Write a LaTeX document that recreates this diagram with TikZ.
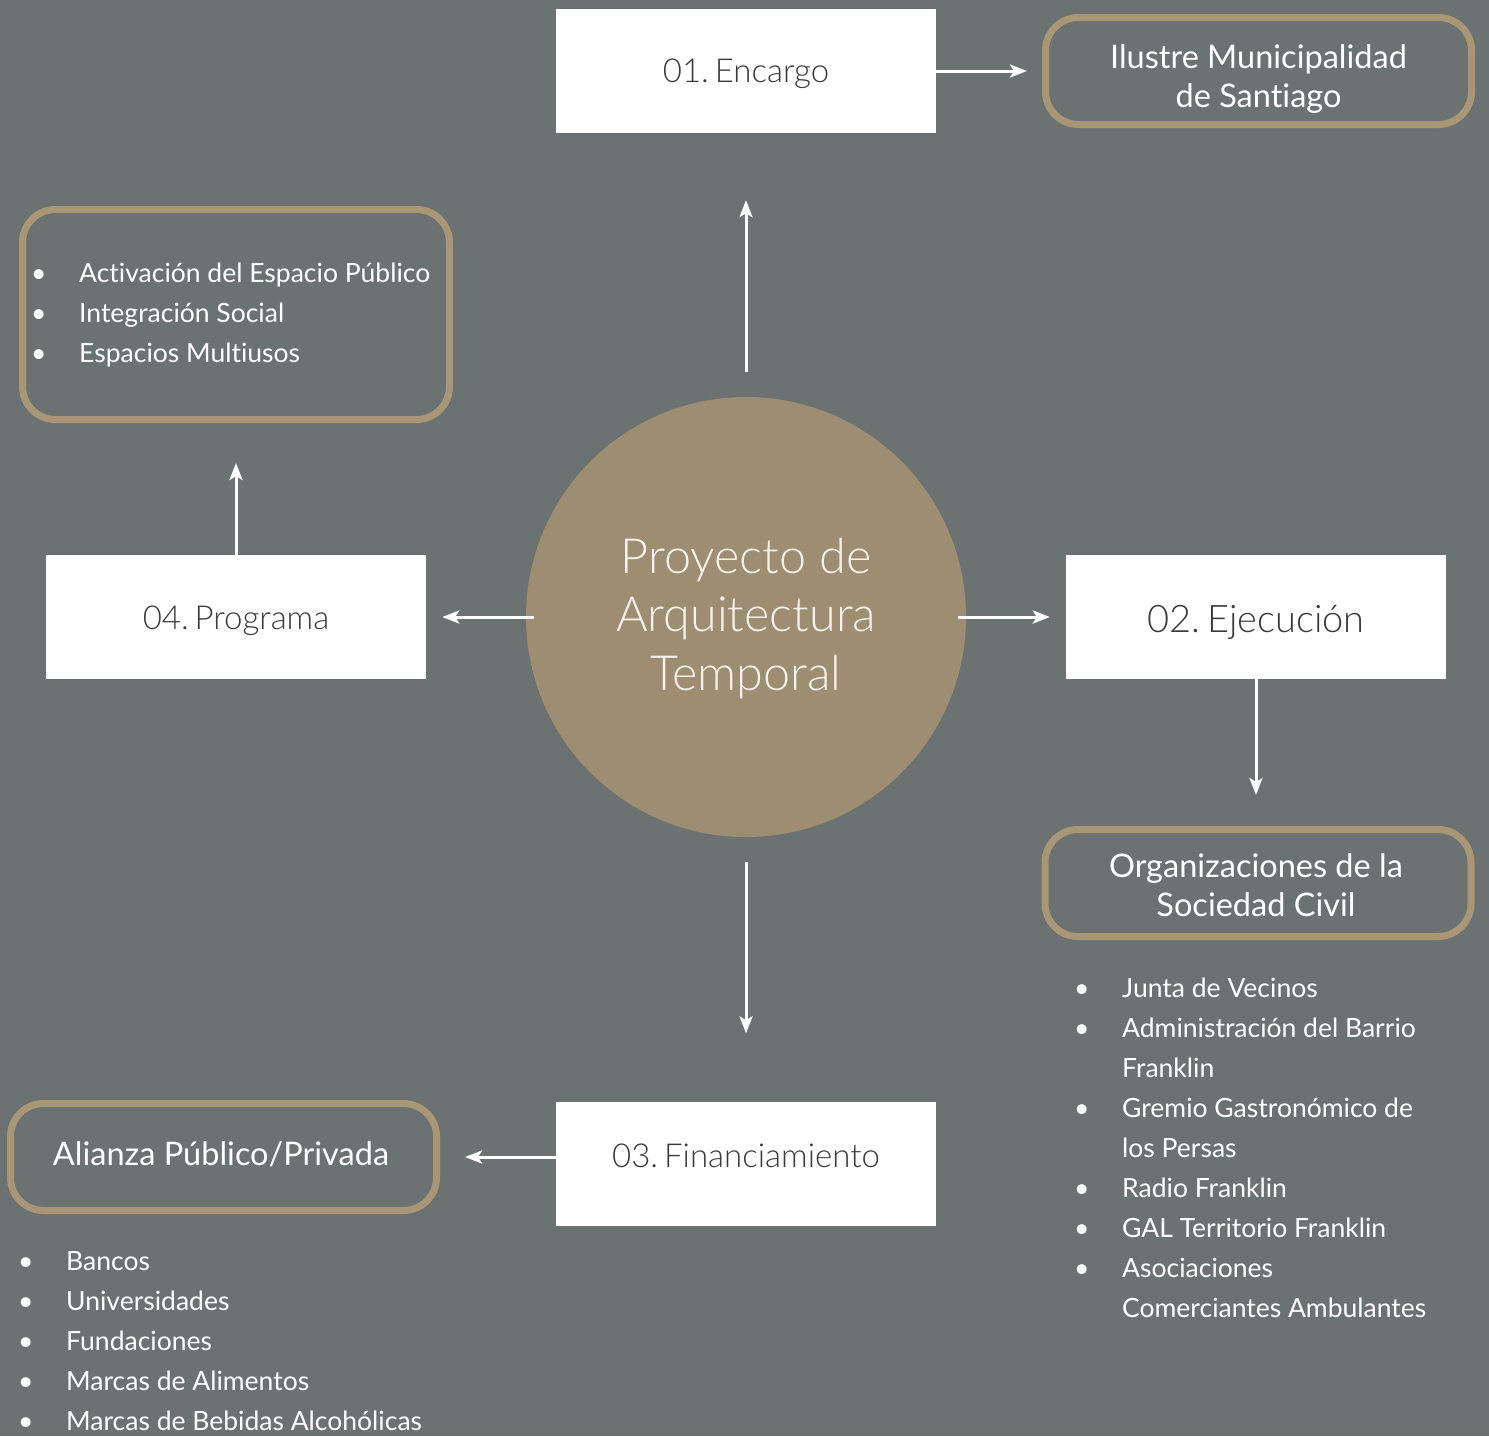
\documentclass[tikz,border=0pt]{standalone}
\usepackage{fontspec}
\setmainfont{Lato}[Ligatures=NoCommon]
\newfontfamily\lightfont{Lato Light}[Ligatures=NoCommon]
\usetikzlibrary{arrows.meta}
\definecolor{bgc}{HTML}{6C7272}
\definecolor{circc}{HTML}{9D8D73}
\definecolor{bordc}{HTML}{A89676}
\definecolor{darkt}{HTML}{3A3A3A}
\definecolor{creamt}{HTML}{F7F3EA}
\newcommand{\bitem}[1]{\textbullet & #1\\}
\begin{document}
\frenchspacing
\begin{tikzpicture}[x=1pt,y=-1pt,
  stagebox/.style={fill=white, draw=none, minimum width=380pt, minimum height=124pt, inner sep=0pt,
     text=darkt, text depth=0pt, font=\lightfont\fontsize{33}{40}\selectfont},
  actorbox/.style={draw=bordc, line width=7pt, rounded corners=33pt, minimum width=426pt, minimum height=107pt,
     inner sep=0pt},
  titletext/.style={text=white, inner sep=0pt, anchor=base, font=\fontsize{32.5}{39}\selectfont},
  listtext/.style={text=white, inner sep=0pt, anchor=base west, font=\fontsize{26.5}{40}\selectfont},
  conn/.style={draw=white, line width=3pt, -{Stealth[length=17pt,width=13pt,inset=4pt]}}
]
\fill[bgc] (0,0) rectangle (1489,1436);
\useasboundingbox (0,0) rectangle (1489,1436);

% centre
\node[circle, fill=circc, minimum size=440pt, inner sep=0pt] (core) at (746,617) {};
\node[text=creamt, inner sep=0pt, anchor=base, font=\lightfont\fontsize{48.5}{58.5}\selectfont] (coretext) at (746,573)
  {\begin{tabular}[t]{@{}c@{}}Proyecto de\\Arquitectura\\Temporal\end{tabular}};

% stages
\node[stagebox, text height=22pt] (enc) at (746,71) {01.\hspace{0.18em}Encargo};
\node[stagebox, text height=30pt, font=\lightfont\fontsize{38}{44}\selectfont] (eje) at (1256,617) {02.\hspace{0.18em}Ejecución};
\node[stagebox, text height=7pt] (fin) at (746,1163.5) {03.\hspace{0.18em}Financiamiento};
\node[stagebox, text height=24pt] (prog) at (236,617) {04.\hspace{0.18em}Programa};

% actor boxes
\node[actorbox] (ilu) at (1258.5,71) {};
\node[titletext] (ilut) at (1258.5,68) {\begin{tabular}[t]{@{}c@{}}Ilustre Municipalidad\\de Santiago\end{tabular}};
\node[actorbox] (org) at (1258,883) {};
\node[titletext] (orgt) at (1256,877) {\begin{tabular}[t]{@{}c@{}}Organizaciones de la\\Sociedad Civil\end{tabular}};
\node[actorbox] (ali) at (223.5,1157) {};
\node[titletext] (alit) at (221,1165) {Alianza Público/Privada};
\node[actorbox, minimum width=427pt, minimum height=210pt] (obj) at (236,314.5) {};

% lists
\node[listtext] (objlist) at (31,282) {\begin{tabular}[t]{@{}p{48pt}@{}l@{}}
\bitem{Activación del Espacio Público}
\bitem{Integración Social}
\bitem{Espacios Multiusos}
\end{tabular}};
\node[listtext] (orglist) at (1074,997) {\begin{tabular}[t]{@{}p{48pt}@{}l@{}}
\bitem{Junta de Vecinos}
\bitem{Administración del Barrio}
 & Franklin\\
\bitem{Gremio Gastronómico de}
 & los Persas\\
\bitem{Radio Franklin}
\bitem{GAL Territorio Franklin}
\bitem{Asociaciones}
 & Comerciantes Ambulantes\\
\end{tabular}};
\node[listtext] (alilist) at (18,1270) {\begin{tabular}[t]{@{}p{48pt}@{}l@{}}
\bitem{Bancos}
\bitem{Universidades}
\bitem{Fundaciones}
\bitem{Marcas de Alimentos}
\bitem{Marcas de Bebidas Alcohólicas}
\end{tabular}};

% connectors
\draw[conn, shorten <=25pt, shorten >=67pt] (core.north) -- (enc.south);
\draw[conn, shorten <=-8pt, shorten >=16pt] (core.west) -- (prog.east);
\draw[conn, shorten <=-8pt, shorten >=16pt] (core.east) -- (eje.west);
\draw[conn, shorten <=25pt, shorten >=68pt] (core.south) -- (fin.north);
\draw[conn, shorten >=15pt] (enc.east) -- (enc.east -| ilu.west);
\draw[conn, shorten >=31pt] (eje.south) -- (eje.south |- org.north);
\draw[conn, shorten >=40pt] (prog.north) -- (prog.north |- obj.south);
\draw[conn, shorten >=25pt] (fin.west |- ali.east) -- (ali.east);
\end{tikzpicture}
\end{document}
